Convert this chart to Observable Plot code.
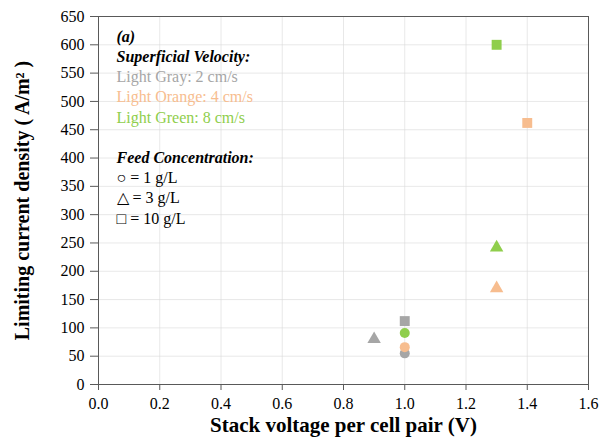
<!DOCTYPE html>
<html>
<head>
<meta charset="utf-8">
<script src="https://cdn.jsdelivr.net/npm/d3@7"></script>
<script src="https://cdn.jsdelivr.net/npm/@observablehq/plot@0.6"></script>
<style>
  html, body { margin: 0; padding: 0; background: #fff; }
  #chart svg { display: block; }
  #chart svg, #chart svg text {
    font-family: "Liberation Serif", "Times New Roman", Times, serif !important;
  }
</style>
</head>
<body>
<div id="chart"></div>
<script>
// Measured limiting current density vs. stack voltage per cell pair
const voltage       = [1.0, 0.9, 1.0,   1.0, 1.3, 1.4,   1.0, 1.3, 1.3];
const density       = [55,  80,  112,   66,  170, 462,   91,  242, 600];
const velocity      = [2,   2,   2,     4,   4,   4,     8,   8,   8];   // cm/s
const concentration = [1,   3,   10,    1,   3,   10,    1,   3,   10];  // g/L

const velocityLevels = [2, 4, 8];
const velocityColors = ["#a6a6a6", "#f7bd8f", "#8fce4c"];
const concLevels = [1, 3, 10];
const concSymbols = ["circle", "triangle", "square"];

const xTicks = [0, 0.2, 0.4, 0.6, 0.8, 1.0, 1.2, 1.4, 1.6];
const yTicks = d3.range(0, 651, 50);

const legendLines = [
  {text: "(a)", color: "#000", weight: "bold", style: "italic"},
  {text: "Superficial Velocity:", color: "#000", weight: "bold", style: "italic"},
  {text: "Light Gray: 2 cm/s", color: velocityColors[0], weight: "normal", style: "normal"},
  {text: "Light Orange: 4 cm/s", color: velocityColors[1], weight: "normal", style: "normal"},
  {text: "Light Green: 8 cm/s", color: velocityColors[2], weight: "normal", style: "normal"},
  {text: "", color: "#000", weight: "normal", style: "normal"},
  {text: "Feed Concentration:", color: "#000", weight: "bold", style: "italic"},
  {text: "\u25CB = 1 g/L", color: "#000", weight: "normal", style: "normal"},
  {text: "\u25B3 = 3 g/L", color: "#000", weight: "normal", style: "normal"},
  {text: "\u25A1 = 10 g/L", color: "#000", weight: "normal", style: "normal"}
];

const rows = voltage.map((v, i) => ({
  v, j: density[i], vel: velocity[i], conc: concentration[i]
}));

const lineStep = 20.2;

const legendMarks = legendLines.map((l, i) =>
  Plot.text([l.text], {
    frameAnchor: "top-left",
    dx: 18,
    dy: 14 + i * lineStep,
    text: d => d,
    textAnchor: "start",
    fill: l.color,
    fontSize: 16,
    fontWeight: l.weight,
    fontStyle: l.style
  })
);

const chart = Plot.plot({
  width: 601,
  height: 446,
  marginLeft: 98,
  marginRight: 13,
  marginTop: 16,
  marginBottom: 62,
  style: {fontSize: "16px", color: "#000", background: "#fff"},
  x: {domain: [0, 1.6]},
  y: {domain: [0, 650]},
  color: {domain: velocityLevels, range: velocityColors},
  symbol: {domain: concLevels, range: concSymbols},
  marks: [
    Plot.gridX(xTicks, {stroke: "#d9d9d9", strokeOpacity: 0.6}),
    Plot.gridY(yTicks, {stroke: "#d9d9d9", strokeOpacity: 0.6}),
    Plot.frame({stroke: "#595959", strokeWidth: 1}),
    Plot.axisX(xTicks, {
      tickSize: 6, tickPadding: 7, stroke: "#595959",
      tickFormat: d => d.toFixed(1), label: null, fontSize: 16
    }),
    Plot.axisY(yTicks, {
      tickSize: 8, tickPadding: 6, stroke: "#595959",
      label: null, fontSize: 16
    }),
    Plot.dot(rows.filter(d => d.conc !== 10), {
      x: "v", y: "j", fill: "vel", symbol: "conc", r: 5, stroke: "none"
    }),
    Plot.dot(rows.filter(d => d.conc === 10), {
      x: "v", y: "j", fill: "vel", symbol: "conc", r: 5.6, stroke: "none"
    }),
    ...legendMarks,
    Plot.text(["Stack voltage per cell pair (V)"], {
      frameAnchor: "bottom", dy: 47, text: d => d, textAnchor: "middle",
      fontSize: 21, fontWeight: "bold", fill: "#000"
    }),
    Plot.text(["Limiting current density ( A/m\u00B2 )"], {
      frameAnchor: "left", dx: -76, rotate: -90, text: d => d, textAnchor: "middle",
      fontSize: 20, fontWeight: "bold", fill: "#000"
    })
  ]
});

document.getElementById("chart").appendChild(chart);
</script>
</body>
</html>
